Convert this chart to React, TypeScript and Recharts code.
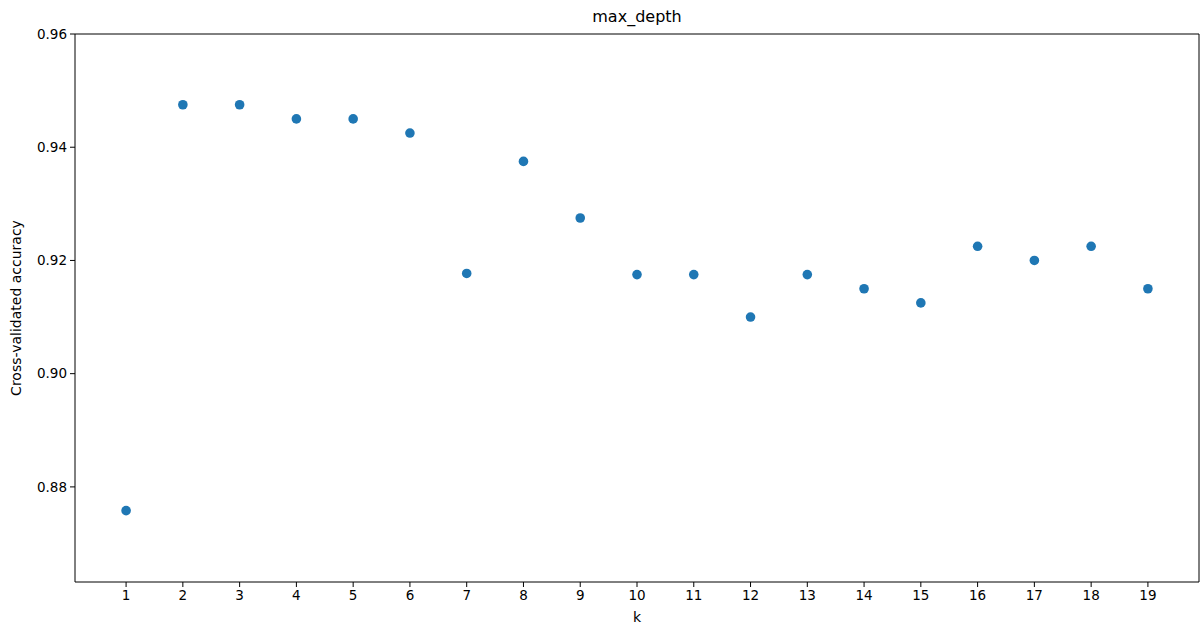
import { ReferenceLine, Scatter, ScatterChart, XAxis, YAxis, Label } from "recharts"

const K_VALUES = [1, 2, 3, 4, 5, 6, 7, 8, 9, 10, 11, 12, 13, 14, 15, 16, 17, 18, 19]
const ACCURACY = [
  0.8758, 0.9475, 0.9475, 0.945, 0.945, 0.9425, 0.9177, 0.9375, 0.9275, 0.9175,
  0.9175, 0.91, 0.9175, 0.915, 0.9125, 0.9225, 0.92, 0.9225, 0.915,
]
const Y_TICKS = [0.88, 0.9, 0.92, 0.94, 0.96]
const TITLE = "max_depth"

const FONT = "DejaVu Sans, sans-serif"
const DOT = "#1f77b4"
const INK = "#000"

const data = K_VALUES.map((k, i) => ({ k, acc: ACCURACY[i] }))

function Dot(props: any) {
  const { cx, cy } = props
  if (cx == null || cy == null) return null
  return <circle cx={cx} cy={cy} r={4.8} fill={DOT} />
}

export default function App() {
  return (
    <div style={{ position: "absolute", left: 0, top: 0, width: 1200, height: 625, background: "#fff", fontFamily: FONT }}>
      <div
        style={{
          position: "absolute",
          top: 7,
          left: 75,
          width: 1124,
          textAlign: "center",
          fontSize: 16,
          color: INK,
        }}
      >
        {TITLE}
      </div>
      <ScatterChart width={1200} height={625} margin={{ top: 34, right: 1, bottom: 0, left: 0 }}>
        <XAxis
          type="number"
          dataKey="k"
          domain={[0.1, 19.9]}
          ticks={K_VALUES}
          interval={0}
          allowDataOverflow
          height={43}
          tick={{ fontSize: 13.5, fill: INK, fontFamily: FONT }}
          tickSize={5}
          tickMargin={3}
          stroke={INK}
          axisLine={{ stroke: INK, strokeWidth: 1 }}
          tickLine={{ stroke: INK }}
        >
          <Label value="k" position="insideBottom" offset={3} style={{ fontSize: 14, fill: INK, fontFamily: FONT }} />
        </XAxis>
        <YAxis
          type="number"
          dataKey="acc"
          domain={[0.8632, 0.96]}
          ticks={Y_TICKS}
          allowDataOverflow
          width={75}
          tickFormatter={(v: number) => v.toFixed(2)}
          tick={{ fontSize: 13.5, fill: INK, fontFamily: FONT }}
          tickSize={5}
          tickMargin={3}
          stroke={INK}
          axisLine={{ stroke: INK, strokeWidth: 1 }}
          tickLine={{ stroke: INK }}
        >
          <Label
            value="Cross-validated accuracy"
            angle={-90}
            position="insideLeft"
            offset={16}
            style={{ fontSize: 14, fill: INK, fontFamily: FONT, textAnchor: "middle" }}
          />
        </YAxis>
        <ReferenceLine y={0.96} stroke={INK} strokeWidth={1} />
        <ReferenceLine x={19.9} stroke={INK} strokeWidth={1} />
        <Scatter data={data} shape={<Dot />} isAnimationActive={false} />
      </ScatterChart>
    </div>
  )
}
